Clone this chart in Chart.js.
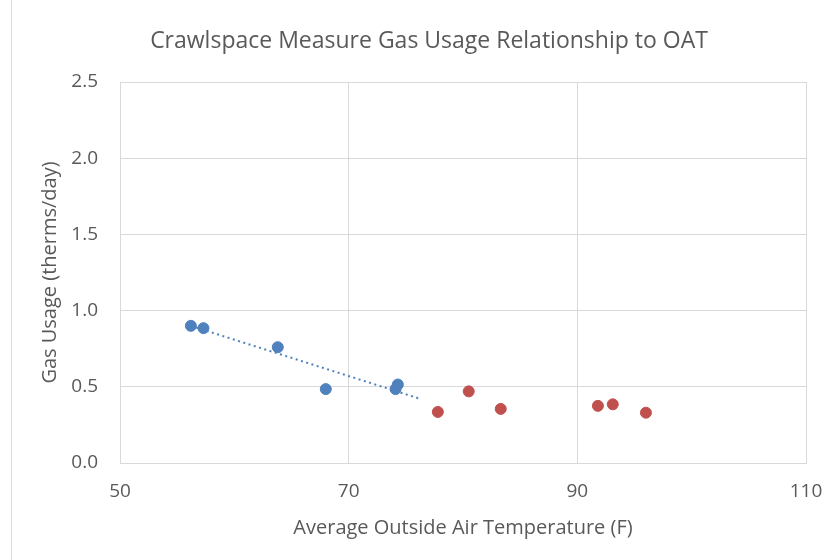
<!DOCTYPE html>
<html lang="en">
<head>
    <meta charset="UTF-8">
    <title>Crawlspace Measure Gas Usage Relationship to OAT</title>
    <style>
        body {
            margin: 0;
            background-color: #ffffff;
            overflow: hidden;
        }
        .chart-box {
            position: absolute;
            left: 11px;
            top: 0;
            width: 834px;
            height: 560px;
            border-left: 1px solid #d9d9d9;
        }
    </style>
</head>
<body>
    <div class="chart-box">
        <canvas id="oatChart" width="834" height="560"></canvas>
    </div>

    <script src="https://cdn.jsdelivr.net/npm/chart.js"></script>
    <script>
        // measured points (blue = lower OAT, red = higher OAT)
        const blueTemp = [56.2, 57.3, 63.8, 68.0, 74.1, 74.3];
        const blueGas = [0.90, 0.885, 0.76, 0.485, 0.485, 0.515];
        const redTemp = [77.8, 80.5, 83.3, 91.8, 93.1, 96.0];
        const redGas = [0.335, 0.47, 0.355, 0.375, 0.385, 0.33];
        // linear trendline of the blue points, as drawn
        const trendTemp = [56.2, 76.3];
        const trendGas = [0.90, 0.42];

        const xTicks = [50, 70, 90, 110];
        const yTicks = [0, 0.5, 1.0, 1.5, 2.0, 2.5];

        const toPoints = (xs, ys) => xs.map((x, i) => ({ x: x, y: ys[i] }));

        const textColor = "#595959";
        const gridColor = "#d9d9d9";
        const fontFamily = "'Open Sans', sans-serif";

        const ctx = document.getElementById("oatChart").getContext("2d");
        new Chart(ctx, {
            type: "scatter",
            data: {
                datasets: [
                    {
                        label: "Trend",
                        data: toPoints(trendTemp, trendGas),
                        showLine: true,
                        borderColor: "#4f81bd",
                        borderWidth: 2,
                        borderDash: [2, 3.5],
                        pointRadius: 0,
                        order: 3
                    },
                    {
                        label: "Low OAT",
                        data: toPoints(blueTemp, blueGas),
                        backgroundColor: "#4f81bd",
                        borderColor: "#4f81bd",
                        pointRadius: 5.5,
                        order: 1
                    },
                    {
                        label: "High OAT",
                        data: toPoints(redTemp, redGas),
                        backgroundColor: "#c0504d",
                        borderColor: "#c0504d",
                        pointRadius: 5.5,
                        order: 2
                    }
                ]
            },
            options: {
                responsive: false,
                animation: false,
                // equal side padding keeps the title centred on the whole chart box
                layout: { padding: { left: 40, right: 40, top: 0, bottom: 0 } },
                plugins: {
                    legend: { display: false },
                    tooltip: { enabled: false },
                    title: {
                        display: true,
                        text: "Crawlspace Measure Gas Usage Relationship to OAT",
                        color: textColor,
                        font: { family: fontFamily, size: 23, weight: "normal" },
                        padding: { top: 28, bottom: 26.4 }
                    }
                },
                scales: {
                    x: {
                        type: "linear",
                        min: 50,
                        max: 110,
                        afterBuildTicks: (scale) => {
                            scale.ticks = xTicks.map(v => ({ value: v }));
                        },
                        afterFit: (scale) => { scale.height = 97; },
                        grid: { color: gridColor, drawTicks: false },
                        border: { color: gridColor },
                        ticks: {
                            color: textColor,
                            padding: 17,
                            maxRotation: 0,
                            font: { family: fontFamily, size: 19 }
                        },
                        title: {
                            display: true,
                            text: "Average Outside Air Temperature (F)",
                            color: textColor,
                            font: { family: fontFamily, size: 20 },
                            padding: { bottom: 20 }
                        }
                    },
                    y: {
                        type: "linear",
                        min: 0,
                        max: 2.5,
                        afterBuildTicks: (scale) => {
                            scale.ticks = yTicks.map(v => ({ value: v }));
                        },
                        afterFit: (scale) => { scale.width = 68; },
                        grid: { color: gridColor, drawTicks: false },
                        border: { color: gridColor },
                        ticks: {
                            color: textColor,
                            padding: 22,
                            font: { family: fontFamily, size: 19 },
                            callback: (v) => v.toFixed(1)
                        },
                        title: {
                            display: true,
                            text: "Gas Usage (therms/day)",
                            color: textColor,
                            font: { family: fontFamily, size: 20 },
                            padding: { top: -14 }
                        }
                    }
                }
            }
        });
    </script>
</body>
</html>
